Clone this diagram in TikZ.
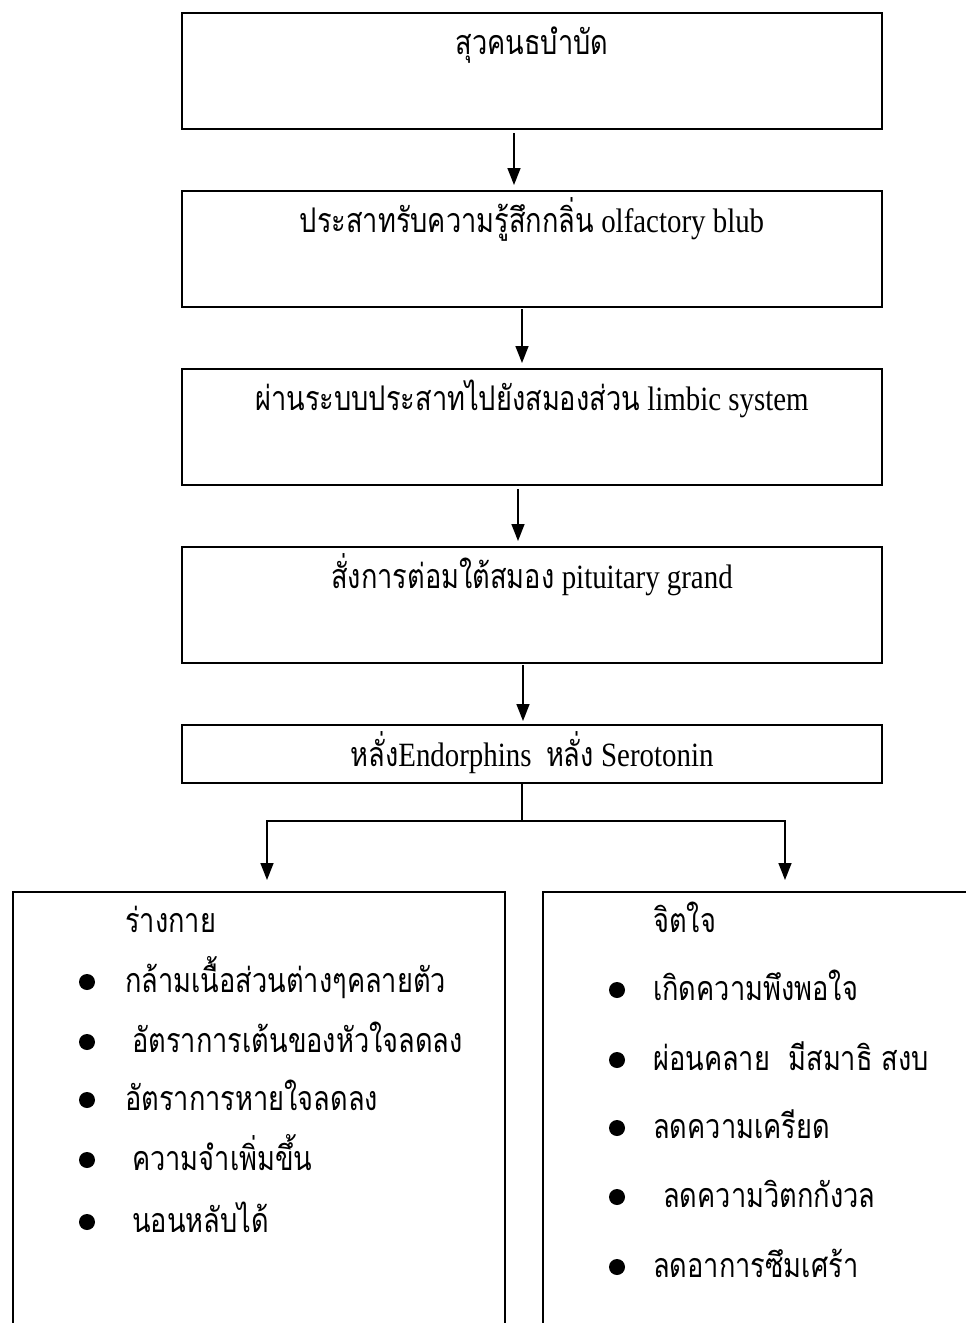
\documentclass[tikz,border=0pt]{standalone}
\usepackage{fontspec}
\setmainfont[FakeStretch=0.85]{Liberation Serif}
\newfontfamily\thaifont[Script=Thai, FakeStretch=0.8]{Loma}
\usetikzlibrary{positioning, arrows.meta}
\newcommand{\thaitxt}[1]{{\thaifont #1}}

\begin{document}
\begin{tikzpicture}[
        x=1pt, y=-1pt,
        node distance=60pt,
        font=\fontsize{34}{40}\selectfont,
        >={Triangle[width=13pt, length=17pt]},
        flowbox/.style={draw, line width=2pt, minimum width=700pt, inner ysep=0pt, text height=41pt, text depth=75pt},
        listbox/.style={draw, line width=2pt, minimum height=470pt, anchor=north west},
        flowline/.style={line width=1.5pt},
        dot/.style={circle, fill, inner sep=0pt, minimum size=16pt},
        item/.style={anchor=base west, inner sep=0pt}]
        \useasboundingbox (0,0) rectangle (966,1323);
        \clip (0,0) rectangle (966,1323);
        % Boxes
        \node[flowbox, anchor=north] (aroma) at (532,12) {\thaitxt{สุวคนธบำบัด}};
        \node[flowbox, below=of aroma] (olfactory) {\thaitxt{ประสาทรับความรู้สึกกลิ่น} olfactory blub};
        \node[flowbox, below=of olfactory] (limbic) {\thaitxt{ผ่านระบบประสาทไปยังสมองส่วน} limbic system};
        \node[flowbox, below=of limbic] (pituitary) {\thaitxt{สั่งการต่อมใต้สมอง} pituitary grand};
        \node[flowbox, below=of pituitary, text depth=17pt] (hormones) {\thaitxt{หลั่ง}Endorphins\ \ \thaitxt{หลั่ง} Serotonin};
        \node[listbox, minimum width=492pt] (body_box) at (12,891) {};
        \node[listbox, minimum width=484pt] (mind_box) at (542,891) {};
        % Edges
        \draw[->, flowline, shorten <=3pt, shorten >=5pt] ([xshift=-18pt]aroma.south) -- ([xshift=-18pt]olfactory.north);
        \draw[->, flowline, shorten <=1pt, shorten >=5pt] ([xshift=-10pt]olfactory.south) -- ([xshift=-10pt]limbic.north);
        \draw[->, flowline, shorten <=3pt, shorten >=5pt] ([xshift=-14pt]limbic.south) -- ([xshift=-14pt]pituitary.north);
        \draw[->, flowline, shorten <=1pt, shorten >=3pt] ([xshift=-9pt]pituitary.south) -- ([xshift=-9pt]hormones.north);
        \coordinate (split) at (522,821);
        \draw[flowline] ([xshift=-10pt]hormones.south) -- (split);
        \draw[->, flowline, shorten >=11pt] (split) -| ([xshift=8pt]body_box.north);
        \draw[->, flowline, shorten >=11pt] (split) -| (mind_box.north);
        % Body list
        \node[item] (body_title) at (125,932) {\thaitxt{ร่างกาย}};
        \node[dot] (body_dot_a) at (87,982) {};
        \node[item] (body_a) at (125,992) {\thaitxt{กล้ามเนื้อส่วนต่างๆคลายตัว}};
        \node[dot] (body_dot_b) at (87,1042) {};
        \node[item] (body_b) at (132,1052) {\thaitxt{อัตราการเต้นของหัวใจลดลง}};
        \node[dot] (body_dot_c) at (87,1100) {};
        \node[item] (body_c) at (125,1110) {\thaitxt{อัตราการหายใจลดลง}};
        \node[dot] (body_dot_d) at (87,1160) {};
        \node[item] (body_d) at (132,1170) {\thaitxt{ความจำเพิ่มขึ้น}};
        \node[dot] (body_dot_e) at (87,1222) {};
        \node[item] (body_e) at (132,1232) {\thaitxt{นอนหลับได้}};
        % Mind list
        \node[item] (mind_title) at (653,932) {\thaitxt{จิตใจ}};
        \node[dot] (mind_dot_a) at (617,990) {};
        \node[item] (mind_a) at (653,1000) {\thaitxt{เกิดความพึงพอใจ}};
        \node[dot] (mind_dot_b) at (617,1060) {};
        \node[item] (mind_b) at (653,1070) {\thaitxt{ผ่อนคลาย\ \ มีสมาธิ สงบ}};
        \node[dot] (mind_dot_c) at (617,1128) {};
        \node[item] (mind_c) at (653,1138) {\thaitxt{ลดความเครียด}};
        \node[dot] (mind_dot_d) at (617,1197) {};
        \node[item] (mind_d) at (663,1207) {\thaitxt{ลดความวิตกกังวล}};
        \node[dot] (mind_dot_e) at (617,1267) {};
        \node[item] (mind_e) at (653,1277) {\thaitxt{ลดอาการซึมเศร้า}};
      \end{tikzpicture}
\end{document}
